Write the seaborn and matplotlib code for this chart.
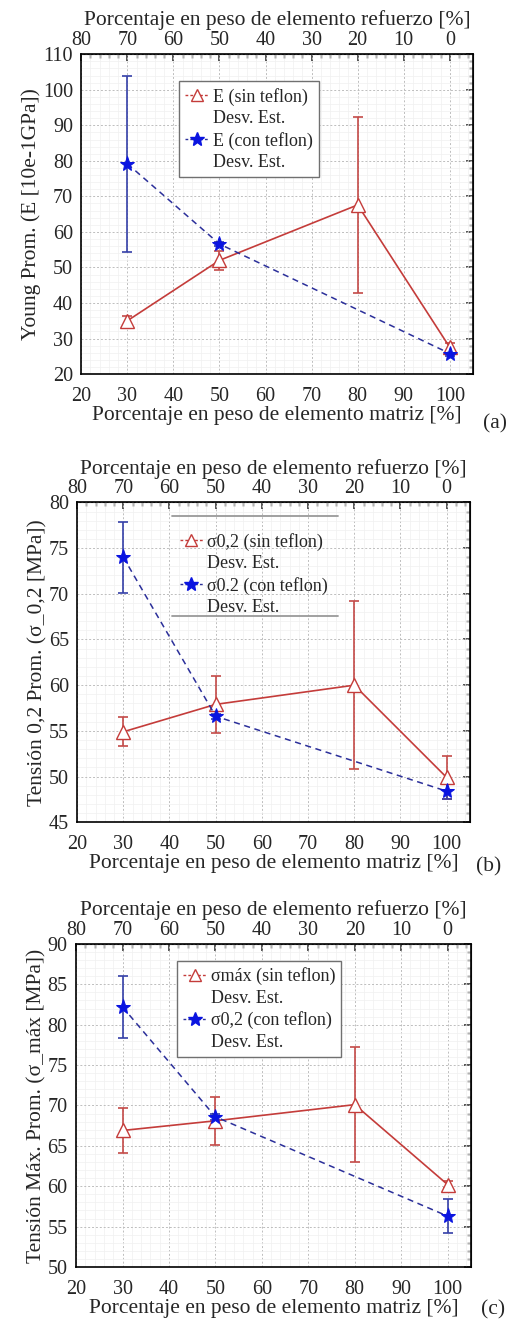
import numpy as np
import pandas as pd
import seaborn as sns
import matplotlib
matplotlib.use("Agg")
import matplotlib.pyplot as plt
from matplotlib.lines import Line2D
from matplotlib.ticker import MultipleLocator

# ---------------- data ----------------
matriz = [30, 50, 80, 100]
matriz_con = [30, 50, 100]

E_sin = [35.0, 52.0, 67.6, 27.5]
E_sin_sd = [1.3, 2.7, 24.7, 1.2]
E_con = [79.2, 56.6, 25.8]
E_con_sd = [24.8, 0.5, 0.8]

s02_sin = [54.9, 57.9, 60.0, 49.9]
s02_sin_sd = [1.6, 3.1, 9.2, 2.4]
s02_con = [74.0, 56.6, 48.4]
s02_con_sd = [3.9, 0.3, 0.8]

smax_sin = [66.9, 68.1, 70.1, 60.2]
smax_sin_sd = [2.8, 3.0, 7.1, 0.4]
smax_con = [82.2, 68.6, 56.3]
smax_con_sd = [3.8, 0.4, 2.1]

top_ticks = [80, 70, 60, 50, 40, 30, 20, 10, 0]

# ---------------- style ----------------
sns.set_style("white")
plt.rcParams['font.family'] = ['Liberation Serif', 'DejaVu Serif']

RED = "#C43C3A"
RED_EB = "#C44A48"
BLUE_LINE = "#2B2F9A"
BLUE_MK = "#0A14E0"
BLUE_EB = "#3540A8"

fig = plt.figure(figsize=(5.14, 13.22), dpi=100)

panels = [
    dict(rect=[0.158, 0.717, 0.762, 0.242], sin=E_sin, sin_sd=E_sin_sd, con=E_con, con_sd=E_con_sd,
         ylim=(20, 110), major=10, minor=2,
         ylabel="Young Prom. (E [10e-1GPa])",
         lab_sin="E (sin teflon)", lab_con="E (con teflon)",
         leg=(0.25, 0.915), legstyle="box", tag="(a)", tagpos=(0.963, 0.672)),
    dict(rect=[0.150, 0.378, 0.764, 0.242], sin=s02_sin, sin_sd=s02_sin_sd, con=s02_con, con_sd=s02_con_sd,
         ylim=(45, 80), major=5, minor=1,
         ylabel="Tensión 0,2 Prom. (σ_0,2 [MPa])",
         lab_sin="σ0,2 (sin teflon)", lab_con="σ0.2 (con teflon)",
         leg=(0.245, 0.925), legstyle="lines", tag="(b)", tagpos=(0.950, 0.337)),
    dict(rect=[0.148, 0.0416, 0.768, 0.2444], sin=smax_sin, sin_sd=smax_sin_sd, con=smax_con, con_sd=smax_con_sd,
         ylim=(50, 90), major=5, minor=1,
         ylabel="Tensión Máx. Prom. (σ_máx [MPa])",
         lab_sin="σmáx (sin teflon)", lab_con="σ0,2 (con teflon)",
         leg=(0.256, 0.947), legstyle="box", tag="(c)", tagpos=(0.960, 0.002)),
]

TICK_FS = 14.5
LAB_FS = 15.5
LEG_FS = 13

for p in panels:
    ax = fig.add_axes(p["rect"])
    df_sin = pd.DataFrame({"x": matriz, "y": p["sin"]})
    df_con = pd.DataFrame({"x": matriz_con, "y": p["con"]})

    ax.errorbar(matriz, p["sin"], yerr=p["sin_sd"], fmt="none", ecolor=RED_EB,
                elinewidth=1.2, capsize=3.5, capthick=1.2, zorder=2)
    ax.errorbar(matriz_con, p["con"], yerr=p["con_sd"], fmt="none", ecolor=BLUE_EB,
                elinewidth=1.2, capsize=3.5, capthick=1.2, zorder=2)

    sns.lineplot(data=df_sin, x="x", y="y", ax=ax, color=RED, linewidth=1.2,
                 marker="^", markersize=10, markerfacecolor="white",
                 markeredgecolor=RED, markeredgewidth=1.0, zorder=3)
    sns.lineplot(data=df_con, x="x", y="y", ax=ax, color=BLUE_LINE, linewidth=1.1,
                 linestyle=(0, (4, 3)), marker="*", markersize=11,
                 markerfacecolor=BLUE_MK, markeredgecolor=BLUE_MK, zorder=4)

    ax.set_xlim(20, 105)
    ax.set_ylim(*p["ylim"])
    ax.xaxis.set_major_locator(MultipleLocator(10))
    ax.xaxis.set_minor_locator(MultipleLocator(2))
    ax.yaxis.set_major_locator(MultipleLocator(p["major"]))
    ax.yaxis.set_minor_locator(MultipleLocator(p["minor"]))

    ax.grid(True, which="major", color="#BDBDBD", linestyle=(0, (2, 2)), linewidth=0.7)
    ax.grid(True, which="minor", color="#F0F0F0", linestyle="-", linewidth=0.5)
    ax.set_axisbelow(True)

    ax.tick_params(axis="both", which="major", direction="out", length=5, width=1.1,
                   labelsize=TICK_FS, top=False, right=False)
    ax.tick_params(axis="both", which="minor", direction="out", length=3, width=1.0,
                   top=False, right=False)
    ax.tick_params(axis="x", which="major", pad=4)
    ax.tick_params(axis="y", which="major", pad=1)
    for s in ax.spines.values():
        s.set_color("black")
        s.set_linewidth(1.2)

    ax.set_xlabel("Porcentaje en peso de elemento matriz [%]", fontsize=LAB_FS, labelpad=0)
    ax.set_ylabel(p["ylabel"], fontsize=LAB_FS, labelpad=1)

    # top axis: refuerzo = 100 - matriz
    sec = ax.secondary_xaxis("top", functions=(lambda x: 100 - x, lambda x: 100 - x))
    sec.set_xticks(top_ticks)
    sec.xaxis.set_minor_locator(MultipleLocator(2))
    sec.tick_params(axis="x", which="major", direction="in", length=5, width=1.1,
                    labelsize=TICK_FS, pad=3)
    sec.tick_params(axis="x", which="minor", direction="in", length=3, width=1.0)
    sec.set_xlabel("Porcentaje en peso de elemento refuerzo [%]", fontsize=LAB_FS, labelpad=4)

    secy = ax.secondary_yaxis("right")
    secy.yaxis.set_major_locator(MultipleLocator(p["major"]))
    secy.yaxis.set_minor_locator(MultipleLocator(p["minor"]))
    secy.tick_params(axis="y", which="major", direction="in", length=5, width=1.1, labelright=False)
    secy.tick_params(axis="y", which="minor", direction="in", length=3, width=1.0)

    # legend
    blank = Line2D([], [], linestyle="none", marker=None)
    h_sin = Line2D([], [], color=RED, linestyle=(0, (2, 1.5)), linewidth=1.0, marker="^",
                   markersize=9, markerfacecolor="white", markeredgecolor=RED)
    h_con = Line2D([], [], color=BLUE_LINE, linestyle=(0, (2, 1.5)), linewidth=1.0, marker="*",
                   markersize=10, markerfacecolor=BLUE_MK, markeredgecolor=BLUE_MK)
    leg = ax.legend([h_sin, blank, h_con, blank],
                    [p["lab_sin"], "Desv. Est.", p["lab_con"], "Desv. Est."],
                    loc="upper left", bbox_to_anchor=p["leg"], fontsize=LEG_FS,
                    handlelength=1.3, handletextpad=0.2, labelspacing=0.25,
                    borderpad=0.35, borderaxespad=0.0, fancybox=False,
                    frameon=(p["legstyle"] == "box"))
    if p["legstyle"] == "box":
        fr = leg.get_frame()
        fr.set_edgecolor("#707070")
        fr.set_linewidth(1.0)
        fr.set_facecolor("white")
        fr.set_alpha(1.0)
    else:
        for yy in (0.956, 0.644):
            ax.add_line(Line2D([0.242, 0.664], [yy, yy], transform=ax.transAxes,
                               color="#9A9A9A", linewidth=1.3, zorder=5))

    fig.text(p["tagpos"][0], p["tagpos"][1], p["tag"], fontsize=LAB_FS, ha="center", va="bottom")

fig.savefig("out.png", dpi=100)
